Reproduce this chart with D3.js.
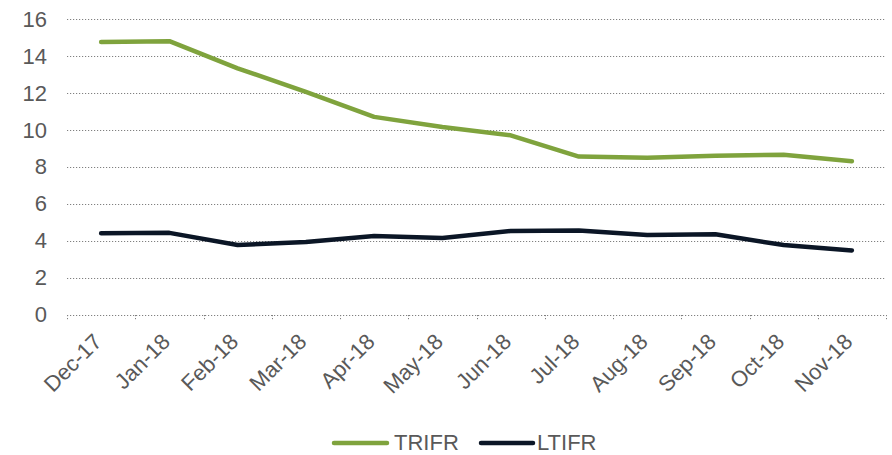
<!DOCTYPE html>
<html><head><meta charset="utf-8">
<script src="https://cdn.jsdelivr.net/npm/d3@7"></script>
<style>body{margin:0;background:#fff}svg{display:block}</style>
</head><body>
<script>
const categories = ["Dec-17","Jan-18","Feb-18","Mar-18","Apr-18","May-18","Jun-18","Jul-18","Aug-18","Sep-18","Oct-18","Nov-18"];
const trifr = [14.75,14.8,13.33,12.05,10.7,10.15,9.7,8.55,8.49,8.6,8.65,8.3];
const ltifr = [4.4,4.42,3.76,3.93,4.25,4.14,4.52,4.55,4.3,4.34,3.76,3.47];
const yTicks = [0,2,4,6,8,10,12,14,16];
const seriesNames = ["TRIFR","LTIFR"];
const colors = ["#7FA33D","#0B1626"];

const W=892,H=455;
const svg=d3.select("body").append("svg").attr("width",W).attr("height",H);
const x=d3.scaleBand().domain(categories).range([67,886]);
const y=d3.scaleLinear().domain([0,16]).range([314.5,19]);
const font="Liberation Sans, Arial, sans-serif";
const fs=22;

// gridlines
svg.append("g").selectAll("line").data(yTicks).join("line")
 .attr("x1",67).attr("x2",886).attr("y1",d=>Math.round(y(d))+0.5).attr("y2",d=>Math.round(y(d))+0.5)
 .attr("stroke","#808080").attr("stroke-width",1).attr("stroke-dasharray","1.2,1.8");
// x ticks
const bounds = categories.map(c=>x(c)).concat([886]);
svg.append("g").selectAll("line").data(bounds).join("line")
 .attr("x1",d=>Math.round(d)+0.5).attr("x2",d=>Math.round(d)+0.5).attr("y1",315).attr("y2",320)
 .attr("stroke","#808080").attr("stroke-width",1).attr("stroke-dasharray","1.2,1.8");
// y labels
svg.append("g").selectAll("text").data(yTicks).join("text")
 .attr("x",47).attr("y",d=>y(d)).attr("dy","0.35em").attr("text-anchor","end")
 .attr("font-family",font).attr("font-size",fs).attr("fill","#595959").text(d=>d);
// x labels
svg.append("g").selectAll("text").data(categories).join("text")
 .attr("transform",d=>`translate(${x(d)+x.bandwidth()/2+2},${343}) rotate(-45)`)
 .attr("text-anchor","end").attr("font-family",font).attr("font-size",fs).attr("fill","#595959")
 .text(d=>d);

const line=d3.line().x((d,i)=>x(categories[i])+x.bandwidth()/2).y(d=>y(d));
[trifr,ltifr].forEach((s,i)=>{
 svg.append("path").datum(s).attr("d",line).attr("fill","none").attr("stroke",colors[i])
  .attr("stroke-width",4.5).attr("stroke-linejoin","round").attr("stroke-linecap","round");
});

// legend
const lg=[{x1:334,x2:387,tx:394},{x1:481,x2:533,tx:537}];
seriesNames.forEach((n,i)=>{
 svg.append("line").attr("x1",lg[i].x1).attr("x2",lg[i].x2).attr("y1",443).attr("y2",443)
  .attr("stroke",colors[i]).attr("stroke-width",4.5).attr("stroke-linecap","round");
 svg.append("text").attr("x",lg[i].tx).attr("y",449.5).attr("font-family",font)
  .attr("font-size",fs).attr("fill","#595959").text(n);
});
</script>
</body></html>
